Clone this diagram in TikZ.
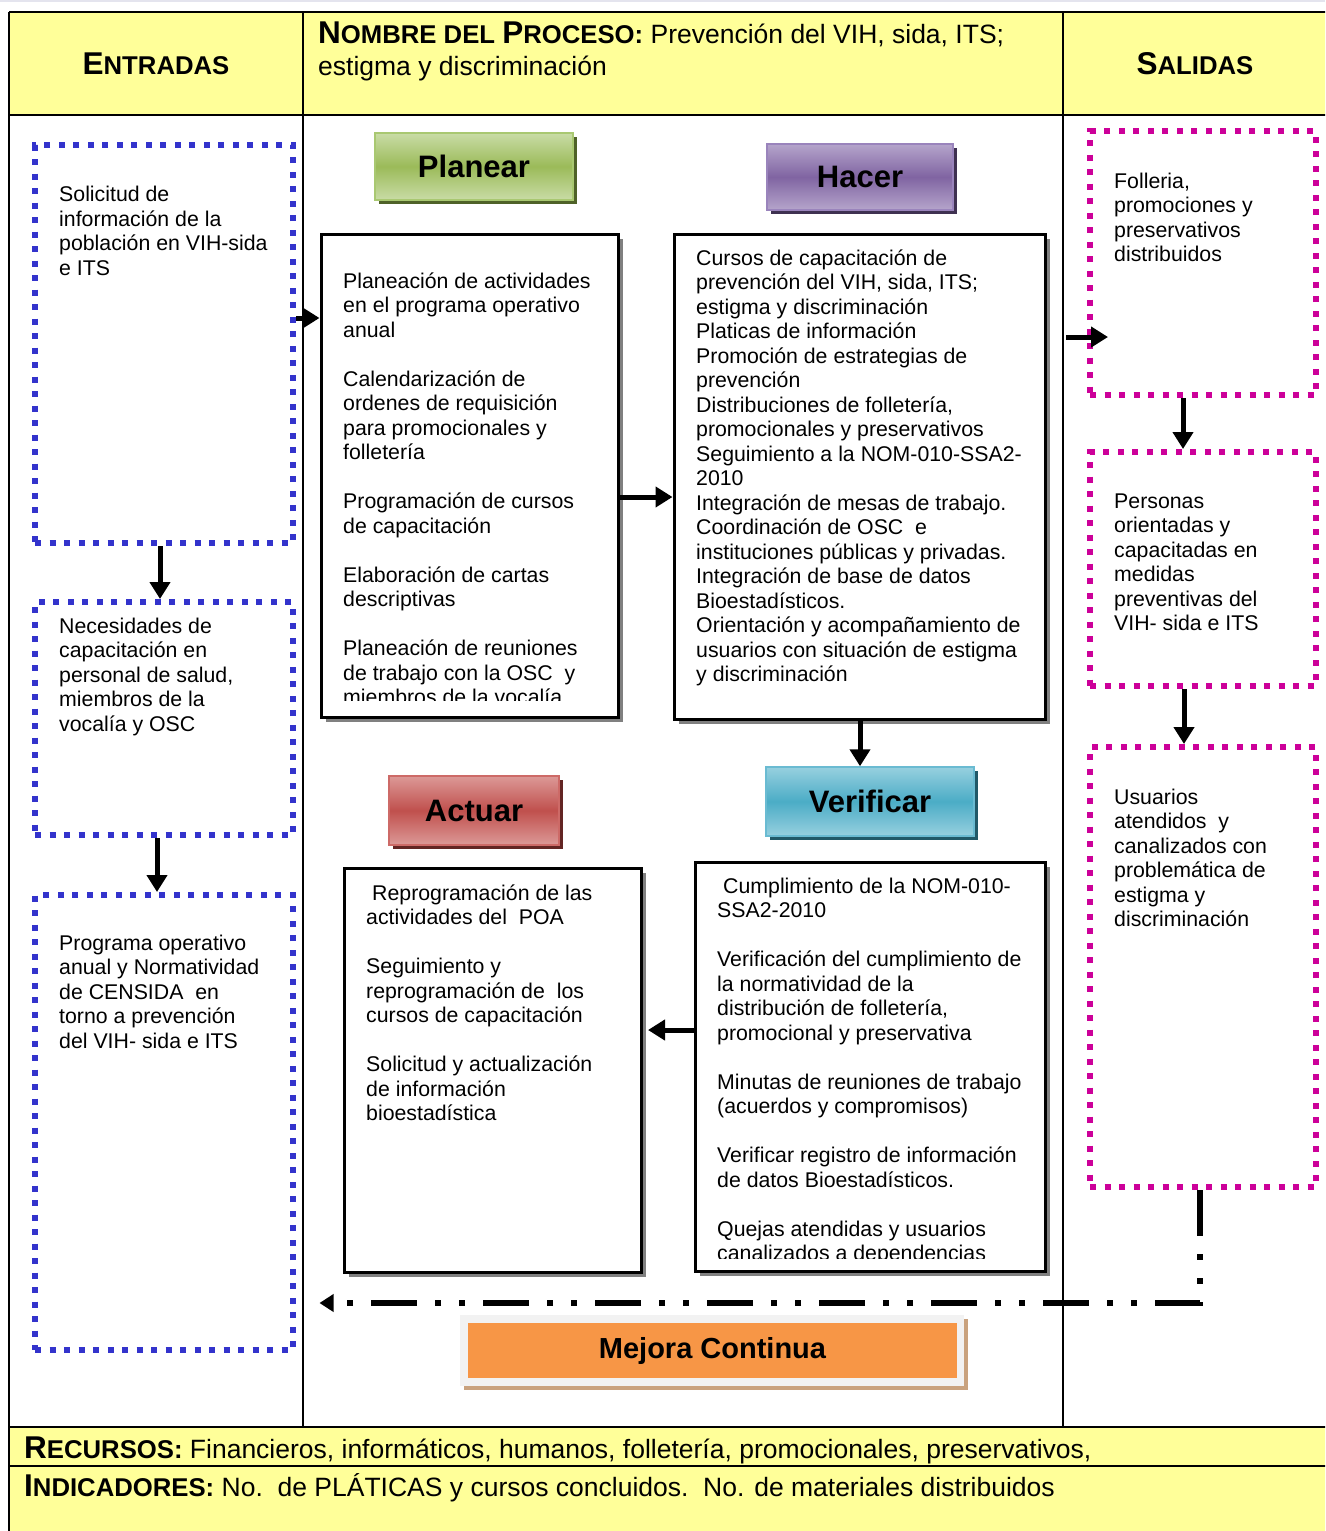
\documentclass[tikz,border=0pt]{standalone}
\usepackage{fontspec}
\setmainfont{Liberation Sans}
\usetikzlibrary{arrows.meta,shadows}

\definecolor{cellyellow}{HTML}{FFFF99}
\definecolor{topband}{HTML}{E4E4EE}
\definecolor{indots}{HTML}{3333CC}
\definecolor{outdots}{HTML}{CC0099}
\definecolor{planmid}{HTML}{9BBB59}
\definecolor{planlight}{HTML}{C9DCA6}
\definecolor{planedge}{HTML}{A9C871}
\definecolor{planshadow}{HTML}{4F6228}
\definecolor{hacermid}{HTML}{8064A2}
\definecolor{hacerlight}{HTML}{B5A5CB}
\definecolor{haceredge}{HTML}{9A84BC}
\definecolor{hacershadow}{HTML}{3F3151}
\definecolor{actmid}{HTML}{C0504D}
\definecolor{actlight}{HTML}{DC9997}
\definecolor{actedge}{HTML}{CD6A67}
\definecolor{actshadow}{HTML}{632523}
\definecolor{vermid}{HTML}{4BACC6}
\definecolor{verlight}{HTML}{97D0DF}
\definecolor{veredge}{HTML}{6ABBD2}
\definecolor{vershadow}{HTML}{215968}
\definecolor{mejorafill}{HTML}{F79646}
\definecolor{mejoraframe}{HTML}{F2F2F2}
\definecolor{mejorashadow}{HTML}{C9A27E}

% fake small capitals: large initial, smaller remaining capitals
\newcommand\hsc[2]{{\fontsize{31.5}{32}\selectfont #1}{\fontsize{25.7}{32}\selectfont #2}}
% left aligned block of body text whose base anchor is its first baseline
\newcommand\bodytext[2]{\begin{minipage}[t]{#1pt}\raggedright\fontsize{21.3}{24.5}\selectfont #2\end{minipage}}

\begin{document}
\begin{tikzpicture}[x=1pt,y=-1pt,
  rule/.style={line width=2pt,black},
  thinrule/.style={line width=1.5pt,black},
  inbox/.style={draw=indots,line width=6pt,dash pattern=on 6pt off 8.5pt,inner sep=0pt},
  outbox/.style={draw=outdots,line width=6pt,dash pattern=on 6pt off 8.5pt,inner sep=0pt},
  procbox/.style={draw=black,line width=3pt,fill=white,inner sep=0pt,
    drop shadow={shadow xshift=5pt,shadow yshift=-5pt,fill=black!50,opacity=1}},
  stagebox/.style={line width=1.5pt,inner sep=0pt,font=\bfseries\fontsize{31}{31}\selectfont},
  txt/.style={anchor=base west,inner sep=0pt},
  flow/.style={line width=5pt,-{Triangle[length=17pt,width=20pt]}},
  feedback/.style={line width=6pt,dash pattern=on 46pt off 18pt on 6pt off 18pt on 6pt off 18pt,
    -{Triangle[length=14pt,width=17pt]}}]

\useasboundingbox (0,0) rectangle (1325,1531);
\clip (0,0) rectangle (1325,1531);
\fill[white] (0,0) rectangle (1325,1531);
\fill[topband] (0,0) rectangle (1325,2);

% table frame and rows
\fill[cellyellow] (9,12) rectangle (1345,115);
\fill[cellyellow] (9,1427) rectangle (1345,1550);
\draw[thinrule] (303,12) -- (303,1427);
\draw[thinrule] (1063,12) -- (1063,1427);
\draw[rule] (9,12) -- (1345,12);
\draw[rule] (9,12) -- (9,1550);
\draw[rule] (9,115) -- (1345,115);
\draw[rule] (9,1427) -- (1345,1427);
\draw[rule] (9,1466) -- (1345,1466);

% header cells
\node[inner sep=0pt] (entradas) at (156,63.5) {\textbf{\hsc{E}{NTRADAS}}};
\node[inner sep=0pt] (salidas) at (1195,63.5) {\textbf{\hsc{S}{ALIDAS}}};
\node[txt] (proceso) at (318,43) {\begin{minipage}[t]{740pt}\fontsize{26.5}{32}\selectfont
  \textbf{\hsc{N}{OMBRE DEL }\hsc{P}{ROCESO:}} Prevención del VIH, sida, ITS;\\
  estigma y discriminación\end{minipage}};

% footer rows
\node[txt] (recursos) at (24,1458) {\fontsize{26.5}{32}\selectfont
  \textbf{\hsc{R}{ECURSOS:}} Financieros, informáticos, humanos, folletería, promocionales, preservativos,};
\node[txt] (indicadores) at (24,1496) {\fontsize{26.5}{32}\selectfont
  \textbf{\hsc{I}{NDICADORES:}} No.\ \ de PLÁTICAS y cursos concluidos.\ \ No. de materiales distribuidos};

% inputs
\node[inbox,minimum width=258,minimum height=398] (in1) at (164,344) {};
\node[inbox,minimum width=258,minimum height=233] (in2) at (164,718.5) {};
\node[inbox,minimum width=258,minimum height=455] (in3) at (164,1122.5) {};
\node[txt] (in1t) at (59,201.5) {\bodytext{230}{Solicitud de\\ información de la\\ población en VIH-sida\\ e ITS}};
\node[txt] (in2t) at (59,633) {\bodytext{230}{Necesidades de\\ capacitación en\\ personal de salud,\\ miembros de la\\ vocalía y OSC}};
\node[txt] (in3t) at (59,950) {\bodytext{230}{Programa operativo\\ anual y Normatividad\\ de CENSIDA\ \ en\\ torno a prevención\\ del VIH- sida e ITS}};

% outputs
\node[outbox,minimum width=226,minimum height=264] (outA) at (1203,263) {};
\node[outbox,minimum width=226,minimum height=234] (outB) at (1203,569) {};
\node[outbox,minimum width=226,minimum height=440] (outC) at (1203,967) {};
\node[txt] (outAt) at (1114,188) {\bodytext{200}{Folleria,\\ promociones y\\ preservativos\\ distribuidos}};
\node[txt] (outBt) at (1114,508) {\bodytext{200}{Personas\\ orientadas y\\ capacitadas en\\ medidas\\ preventivas del\\ VIH- sida e ITS}};
\node[txt] (outCt) at (1114,804) {\bodytext{200}{Usuarios\\ atendidos\ \ y\\ canalizados con\\ problemática de\\ estigma y\\ discriminación}};

% stage titles
\node[stagebox,draw=planedge,top color=planlight,bottom color=planlight,middle color=planmid,
  minimum width=198,minimum height=67,
  drop shadow={shadow xshift=4pt,shadow yshift=-4pt,fill=planshadow,opacity=1}] (planL) at (474,166.5) {Planear};
\node[stagebox,draw=haceredge,top color=hacerlight,bottom color=hacerlight,middle color=hacermid,
  minimum width=186,minimum height=66,
  drop shadow={shadow xshift=4pt,shadow yshift=-4pt,fill=hacershadow,opacity=1}] (hacerL) at (860,177) {Hacer};
\node[stagebox,draw=actedge,top color=actlight,bottom color=actlight,middle color=actmid,
  minimum width=170,minimum height=69,
  drop shadow={shadow xshift=4pt,shadow yshift=-4pt,fill=actshadow,opacity=1}] (actL) at (474,810.5) {Actuar};
\node[stagebox,draw=veredge,top color=verlight,bottom color=verlight,middle color=vermid,
  minimum width=208,minimum height=69,
  drop shadow={shadow xshift=4pt,shadow yshift=-4pt,fill=vershadow,opacity=1}] (verL) at (870,801.5) {Verificar};

% process boxes
\node[procbox,minimum width=297,minimum height=483] (plan) at (469.5,475.5) {};
\node[procbox,minimum width=371,minimum height=485] (hacer) at (859.5,476.5) {};
\node[procbox,minimum width=350,minimum height=409] (verif) at (870,1066.5) {};
\node[procbox,minimum width=297,minimum height=404] (actuar) at (492.5,1070) {};

\begin{scope}
  \clip (323,237) rectangle (616,700);
  \node[txt] (plant) at (343,288) {\bodytext{270}{Planeación de actividades\\ en el programa operativo\\ anual\\[24.5pt]
    Calendarización de\\ ordenes de requisición\\ para promocionales y\\ folletería\\[24.5pt]
    Programación de cursos\\ de capacitación\\[24.5pt]
    Elaboración de cartas\\ descriptivas\\[24.5pt]
    Planeación de reuniones\\ de trabajo con la OSC\ \ y\\ miembros de la vocalía}};
\end{scope}

\node[txt] (hacert) at (696,265) {\bodytext{345}{Cursos de capacitación de\\ prevención del VIH, sida, ITS;\\ estigma y discriminación\\
  Platicas de información\\ Promoción de estrategias de\\ prevención\\ Distribuciones de folletería,\\
  promocionales y preservativos\\ Seguimiento a la NOM-010-SSA2-\\ 2010\\ Integración de mesas de trabajo.\\
  Coordinación de OSC\ \ e\\ instituciones públicas y privadas.\\ Integración de base de datos\\
  Bioestadísticos.\\ Orientación y acompañamiento de\\ usuarios con situación de estigma\\ y discriminación}};

\begin{scope}
  \clip (697,864) rectangle (1043,1258);
  \node[txt] (verift) at (717,893) {\bodytext{320}{\hspace{6pt}Cumplimiento de la NOM-010-\\ SSA2-2010\\[24.5pt]
    Verificación del cumplimiento de\\ la normatividad de la\\ distribución de folletería,\\ promocional y preservativa\\[24.5pt]
    Minutas de reuniones de trabajo\\ (acuerdos y compromisos)\\[24.5pt]
    Verificar registro de información\\ de datos Bioestadísticos.\\[24.5pt]
    Quejas atendidas y usuarios\\ canalizados a dependencias}};
\end{scope}

\node[txt] (actuart) at (366,900) {\bodytext{270}{\hspace{6pt}Reprogramación de las\\ actividades del\ \ POA\\[24.5pt]
  Seguimiento y\\ reprogramación de\ \ los\\ cursos de capacitación\\[24.5pt]
  Solicitud y actualización\\ de información\\ bioestadística}};

% continuous improvement banner
\fill[mejorashadow] (464,1319) rectangle (968,1390);
\node[fill=mejoraframe,inner sep=0pt,minimum width=504,minimum height=71] (mejframe) at (712,1350.5) {};
\node[fill=mejorafill,inner sep=0pt,minimum width=489,minimum height=55,
  font=\bfseries\fontsize{29}{29}\selectfont] (mejora) at (712.5,1350.5) {Mejora Continua};

% connectors
\draw[flow] (in1.east |- 0,318) -- (plan.west |- 0,318);
\draw[flow] (160,0 |- in1.south) -- (160,0 |- in2.north);
\draw[flow] (157,0 |- in2.south) -- (157,0 |- in3.north);
\draw[flow] (plan.east |- 0,497) -- (hacer.west |- 0,497);
\draw[flow] (860,0 |- hacer.south) -- (860,0 |- verL.north);
\draw[flow] (verif.west |- 0,1030) -- (648,1030);
\coordinate (hacerout) at (1066,337);
\coordinate (outAin) at (1108,337);
\draw[flow] (hacerout) -- (outAin);
\draw[flow] (1183,0 |- outA.south) -- (1183,0 |- outB.north);
\draw[flow] (1184,0 |- outB.south) -- (1184,0 |- outC.north);
\draw[feedback] (1200,0 |- outC.south) -- (1200,1303) -- (plan.west |- 0,1303);
\end{tikzpicture}
\end{document}
